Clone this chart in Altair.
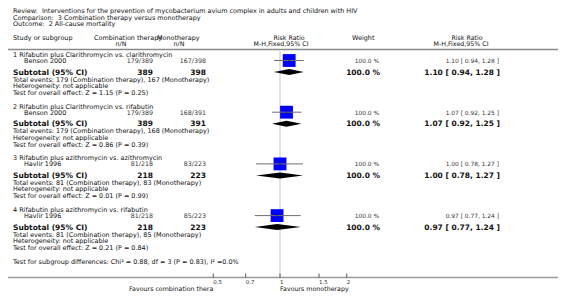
import altair as alt
import pandas as pd

# ---------------- data ----------------
review = "Review:\u00a0 Interventions for the prevention of mycobacterium avium complex in adults and children with HIV"
comparison = "Comparison:\u00a0 3 Combination therapy versus monotherapy"
outcome = "Outcome:\u00a0 2 All-cause mortality"

subgroups = [
    "1 Rifabutin plus Clarithromycin vs. clarithromycin",
    "2 Rifabutin plus Clarithromycin vs. rifabutin",
    "3 Rifabutin plus azithromycin vs. azithromycin",
    "4 Rifabutin plus azithromycin vs. rifabutin",
]
studies = ["Benson 2000", "Benson 2000", "Havlir 1996", "Havlir 1996"]
comb_events = [179, 179, 81, 81]
comb_total = [389, 389, 218, 218]
mono_events = [167, 168, 83, 85]
mono_total = [398, 391, 223, 223]
rr = [1.10, 1.07, 1.00, 0.97]
rr_lo = [0.94, 0.92, 0.78, 0.77]
rr_hi = [1.28, 1.25, 1.27, 1.24]
weights = [100.0, 100.0, 100.0, 100.0]
z_vals = ["1.15", "0.86", "0.01", "0.21"]
p_vals = ["0.25", "0.39", "0.99", "0.84"]
subgroup_test = "Test for subgroup differences: Chi\u00b2 = 0.88, df = 3 (P = 0.83), I\u00b2 =0.0%"
tick_values = [0.5, 0.7, 1, 1.5, 2]
tick_labels = ["0.5", "0.7", "1", "1.5", "2"]
favours_left = "Favours combination thera"
favours_right = "Favours monotherapy"

# ---------------- layout (chart pixel coords) ----------------
OFF = 8
W, H = 550, 285
def P(v):
    return v - OFF

X05, X2 = P(213.3), P(346.7)
xs = alt.Scale(type="log", domain=[0.5, 2], range=[X05, X2], nice=False, zero=False)
ys = alt.Scale(domain=[0, H], range=[0, H], nice=False, zero=False)
pxs = alt.Scale(domain=[0, W], range=[0, W], nice=False, zero=False)

G0, GSTEP = 55, 51.7
OFFS = dict(head=0, study=6, sub=17.5, tot=24.5, het=31, test=38)

STYLES = {
    "n_l": dict(align="left", fontWeight="normal", fontSize=6.45, color="#111"),
    "n_r": dict(align="right", fontWeight="normal", fontSize=6.3, color="#333"),
    "n_c": dict(align="center", fontWeight="normal", fontSize=6.3, color="#111"),
    "b_l": dict(align="left", fontWeight="bold", fontSize=7.5, color="#111"),
    "b_r": dict(align="right", fontWeight="bold", fontSize=7.5, color="#111"),
    "s_r": dict(align="right", fontWeight="normal", fontSize=5.9, color="#333"),
}

texts = []
def T(x, y, s, st):
    texts.append(dict(x=P(x), y=P(y), t=s, st=st))

T(13, 11, review, "n_l")
T(13, 17.5, comparison, "n_l")
T(13, 24, outcome, "n_l")
T(13, 38, "Study or subgroup", "n_l")
T(94, 38, "Combination therapy", "n_l")
T(121, 44, "n/N", "n_c")
T(157, 38, "Monotherapy", "n_l")
T(179, 44, "n/N", "n_c")
T(289, 38, "Risk Ratio", "n_c")
T(281, 44, "M-H,Fixed,95% CI", "n_c")
T(352, 38, "Weight", "n_l")
T(467, 38, "Risk Ratio", "n_c")
T(461, 44, "M-H,Fixed,95% CI", "n_c")

study_rows, sub_rows = [], []
for g in range(4):
    base = G0 + GSTEP * g
    yst = base + OFFS["study"]
    ysu = base + OFFS["sub"]
    T(13, base, subgroups[g], "n_l")
    T(24, yst, studies[g], "n_l")
    T(153, yst, f"{comb_events[g]}/{comb_total[g]}", "n_r")
    T(206, yst, f"{mono_events[g]}/{mono_total[g]}", "n_r")
    T(379, yst, f"{weights[g]:.1f} %", "s_r")
    T(499, yst, f"{rr[g]:.2f} [ {rr_lo[g]:.2f}, {rr_hi[g]:.2f} ]", "s_r")
    T(13, ysu, "Subtotal (95% CI)", "b_l")
    T(153, ysu, str(comb_total[g]), "b_r")
    T(206, ysu, str(mono_total[g]), "b_r")
    T(380, ysu, f"{weights[g]:.1f} %", "b_r")
    T(500, ysu, f"{rr[g]:.2f} [ {rr_lo[g]:.2f}, {rr_hi[g]:.2f} ]", "b_r")
    T(13, base + OFFS["tot"],
      f"Total events: {comb_events[g]} (Combination therapy), {mono_events[g]} (Monotherapy)", "n_l")
    T(13, base + OFFS["het"], "Heterogeneity: not applicable", "n_l")
    T(13, base + OFFS["test"],
      f"Test for overall effect: Z = {z_vals[g]} (P = {p_vals[g]})", "n_l")
    study_rows.append(dict(g=g, rr=rr[g], lo=rr_lo[g], hi=rr_hi[g], y=P(yst - 0.5),
                           y1=P(yst - 2.5), y2=P(yst + 1.5)))
    yc = P(ysu - 0.5)
    sub_rows += [
        dict(g=g, x=rr_lo[g], ya=yc, yb=yc),
        dict(g=g, x=rr[g], ya=yc - 3, yb=yc + 3),
        dict(g=g, x=rr_hi[g], ya=yc, yb=yc),
    ]

T(13, 262, subgroup_test, "n_l")

AXIS_Y = P(277.5)
tdf = pd.DataFrame(texts)
sdf = pd.DataFrame(study_rows)
ddf = pd.DataFrame(sub_rows)
kdf = pd.DataFrame(dict(v=tick_values, lab=tick_labels))
fdf = pd.DataFrame(dict(v=[0.5, 1], lab=[favours_left, favours_right], side=["r", "l"]))
one = pd.DataFrame(dict(v=[1]))

layers = []
# text layers
for key, st in STYLES.items():
    layers.append(
        alt.Chart(tdf).transform_filter(alt.datum.st == key)
        .mark_text(baseline="middle", font="DejaVu Sans", **st)
        .encode(x=alt.X("x:Q", scale=pxs, axis=None),
                y=alt.Y("y:Q", scale=ys, axis=None),
                text="t:N")
    )

# header line
layers.append(alt.Chart(one).mark_rule(color="#8a8a8a", strokeWidth=1.5)
              .encode(x=alt.value(0), x2=alt.value(W), y=alt.value(P(49.5))))
# reference line at 1
layers.append(alt.Chart(one).mark_rule(color="#d9d9d9", strokeWidth=1.5)
              .encode(x=alt.X("v:Q", scale=xs, axis=None), y=alt.value(P(50.5)), y2=alt.value(AXIS_Y)))
# squares
layers.append(alt.Chart(sdf).mark_square(size=165, color="#0000ff", opacity=1)
              .encode(x=alt.X("rr:Q", scale=xs, axis=None), y=alt.Y("y:Q", scale=ys, axis=None)))
# CI lines
layers.append(alt.Chart(sdf).mark_rule(color="#6e6e6e", strokeWidth=1)
              .encode(x=alt.X("lo:Q", scale=xs, axis=None), x2="hi:Q",
                      y=alt.Y("y:Q", scale=ys, axis=None)))
# estimate ticks
layers.append(alt.Chart(sdf).mark_rule(color="#222", strokeWidth=0.8)
              .encode(x=alt.X("rr:Q", scale=xs, axis=None),
                      y=alt.Y("y1:Q", scale=ys, axis=None), y2="y2:Q"))
# diamonds
layers.append(alt.Chart(ddf).mark_area(color="#000", opacity=1, interpolate="linear")
              .encode(x=alt.X("x:Q", scale=xs, axis=None),
                      y=alt.Y("ya:Q", scale=ys, axis=None), y2="yb:Q", detail="g:N"))
# axis line
layers.append(alt.Chart(one).mark_rule(color="#9a9a9a", strokeWidth=1.5)
              .encode(x=alt.value(0), x2=alt.value(W), y=alt.value(AXIS_Y)))
# ticks
layers.append(alt.Chart(kdf).mark_rule(color="#333", strokeWidth=0.8)
              .encode(x=alt.X("v:Q", scale=xs, axis=None),
                      y=alt.value(AXIS_Y - 4), y2=alt.value(AXIS_Y)))
layers.append(alt.Chart(kdf).mark_text(align="left", baseline="middle", font="DejaVu Sans",
                                       fontSize=5.5, color="#333")
              .encode(x=alt.X("v:Q", scale=xs, axis=None), y=alt.value(P(282)), text="lab:N"))
layers.append(alt.Chart(fdf).transform_filter(alt.datum.side == "r")
              .mark_text(align="right", baseline="middle", font="DejaVu Sans", fontSize=6.3, color="#111")
              .encode(x=alt.X("v:Q", scale=xs, axis=None), y=alt.value(P(288.5)), text="lab:N"))
layers.append(alt.Chart(fdf).transform_filter(alt.datum.side == "l")
              .mark_text(align="left", baseline="middle", font="DejaVu Sans", fontSize=6.3, color="#111")
              .encode(x=alt.X("v:Q", scale=xs, axis=None), y=alt.value(P(288.5)), text="lab:N"))

chart = (
    alt.layer(*layers)
    .resolve_scale(x="independent", y="independent")
    .properties(width=W, height=H, padding=0, autosize=alt.AutoSizeParams(type="none"))
    .configure_view(stroke=None)
)

chart.save("out.html", embed_options={"renderer": "svg", "actions": False})
